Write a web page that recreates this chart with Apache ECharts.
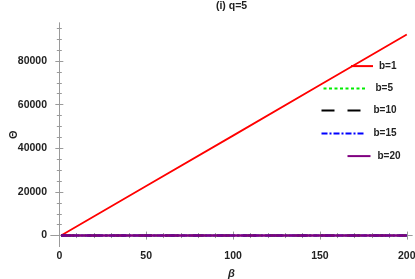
<!DOCTYPE html>
<html><head><meta charset="utf-8">
<script src="https://cdn.jsdelivr.net/npm/echarts@6/dist/echarts.min.js"></script>
<style>html,body{margin:0;padding:0;background:#fff}#c{width:415px;height:279px}</style>
</head><body><div id="c"></div>
<script>
const beta = [1, 50, 100, 150, 200];
const b1 = [0, 22700, 45800, 69000, 92100];
const b5 = [0, 0, 0, 0, 0];
const b10 = [0, 0, 0, 0, 0];
const b15 = [0, 0, 0, 0, 0];
const b20 = [0, 0, 0, 0, 0];
const seriesNames = ['b=1', 'b=5', 'b=10', 'b=15', 'b=20'];
const xMajor = [0, 50, 100, 150, 200];
const xMinor = [10,20,30,40,60,70,80,90,110,120,130,140,160,170,180,190];
const yMajor = [0, 20000, 40000, 60000, 80000];
const yMinor = [5000,10000,15000,25000,30000,35000,45000,50000,55000,65000,70000,75000,85000,90000,95000];
const title = '(i) q=5';
const xName = 'β';
const yName = 'Θ';

const FONT = 'Liberation Sans, Arial, sans-serif';
const gray = '#9a9a9a';
const XMIN = -4.8, XMAX = 203, YMIN = -5000, YMAX = 97400;

function xa(pos, vals, len, showLine, showLabel, extra) {
  return Object.assign({
    type: 'value', position: pos, min: XMIN, max: XMAX, gridIndex: 0,
    axisLine: { show: showLine, lineStyle: { color: gray, width: 1 } },
    axisTick: { show: true, inside: true, length: len, customValues: vals, lineStyle: { color: gray } },
    axisLabel: showLabel ? { show: true, customValues: vals, formatter: v => String(v), color: '#222', fontFamily: FONT, fontWeight: 'bold', fontSize: 10.5, margin: 4 } : { show: false },
    splitLine: { show: false }
  }, extra || {});
}
function ya(pos, vals, len, showLine, showLabel, extra) {
  return Object.assign({
    type: 'value', position: pos, min: YMIN, max: YMAX, gridIndex: 0,
    axisLine: { show: showLine, lineStyle: { color: gray, width: 1 } },
    axisTick: { show: true, inside: true, length: len, customValues: vals, lineStyle: { color: gray } },
    axisLabel: showLabel ? { show: true, customValues: vals, formatter: v => String(v), color: '#222', fontFamily: FONT, fontWeight: 'bold', fontSize: 10.5, margin: 4 } : { show: false },
    splitLine: { show: false }
  }, extra || {});
}

const colors = ['#ff0000', '#00ee00', '#000000', '#0000ff', '#800080'];
const types = ['solid', [3, 2.5], [13, 13], [6, 2, 2, 2], 'solid'];
const widths = [1.8, 2, 2, 2, 2.5];
const datas = [b1, b5, b10, b15, b20];

const legendPos = [
  { left: 350, cy: 67.5, w: 22, pad: 1 },
  { left: 322.5, cy: 90, w: 44, pad: 3 },
  { left: 320.5, cy: 112, w: 40, pad: 7 },
  { left: 320.5, cy: 135, w: 43, pad: 4 },
  { left: 346.5, cy: 157.5, w: 23, pad: 2 }
];

const option = {
  animation: false,
  backgroundColor: '#fff',
  title: { text: title, left: 231.5, textAlign: 'center', top: 0.5, padding: 0, textStyle: { fontFamily: FONT, fontWeight: 'bold', fontSize: 10.5, color: '#222' } },
  grid: { left: 51, top: 23, width: 361, height: 223.5, containLabel: false, outerBoundsMode: 'none' },
  xAxis: [
    xa('bottom', xMajor, 4, true, true, { name: xName, nameLocation: 'middle', nameGap: 21.5, nameMoveOverlap: false, nameTextStyle: { fontFamily: FONT, fontStyle: 'italic', fontWeight: 'bold', fontSize: 11, color: '#222' } }),
    xa('bottom', xMinor, 2.5, false, false),
    xa('top', xMajor, 4, true, false),
    xa('top', xMinor, 2.5, false, false)
  ],
  yAxis: [
    ya('left', yMajor, 4, true, true, { name: yName, nameLocation: 'middle', nameGap: 32, nameRotate: 90, nameMoveOverlap: false, nameTextStyle: { fontFamily: FONT, fontWeight: 'bold', fontSize: 11, color: '#222' } }),
    ya('left', yMinor, 2.5, false, false),
    ya('right', yMajor, 4, true, false),
    ya('right', yMinor, 2.5, false, false)
  ],
  legend: legendPos.map((p, i) => ({
    data: [seriesNames[i]], left: p.left, top: p.cy - 7, padding: 0,
    itemWidth: p.w, itemHeight: 14, selectedMode: false,
    itemStyle: { opacity: 0 },
    textStyle: { fontFamily: FONT, fontWeight: 'bold', fontSize: 10, color: '#222', padding: [0, 0, 0, p.pad] }
  })),
  series: seriesNames.map((n, i) => ({
    name: n, type: 'line', xAxisIndex: 0, yAxisIndex: 0, symbol: 'none',
    data: beta.map((b, j) => [b, datas[i][j]]),
    lineStyle: { color: colors[i], width: widths[i], type: types[i] },
    itemStyle: { color: colors[i] },
    z: 2 + i
  }))
};
const chart = echarts.init(document.getElementById('c'), null, { renderer: 'canvas' });
chart.setOption(option);
</script></body></html>
